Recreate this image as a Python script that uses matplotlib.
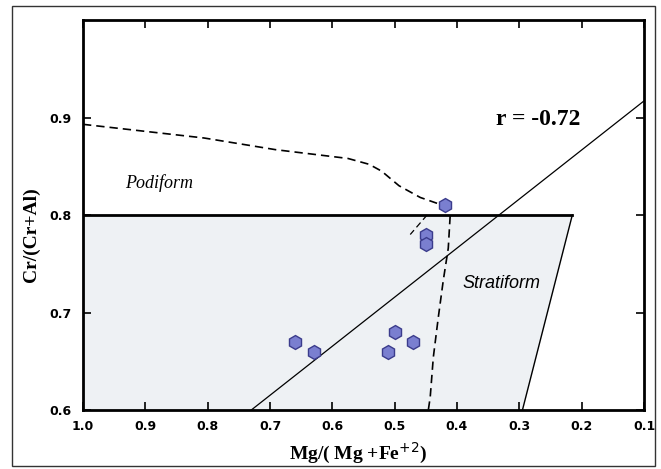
import matplotlib
matplotlib.use("Agg")
import matplotlib.pyplot as plt
from matplotlib.patches import Rectangle

# chromite compositions
mg_num = [0.42, 0.45, 0.45, 0.66, 0.63, 0.50, 0.47, 0.51]
cr_num = [0.81, 0.78, 0.77, 0.67, 0.66, 0.68, 0.67, 0.66]

# stratiform field
field_x = [1.0, 1.0, 0.215, 0.295]
field_y = [0.6, 0.8, 0.8, 0.6]

# podiform trend (dashed)
pod_x = [1.0, 0.806, 0.691, 0.575, 0.541, 0.521, 0.493, 0.459, 0.432]
pod_y = [0.893, 0.879, 0.867, 0.858, 0.852, 0.845, 0.830, 0.818, 0.812]
stub_x = [0.448, 0.475]
stub_y = [0.800, 0.780]
vert_x = [0.411, 0.414, 0.422, 0.430, 0.438, 0.443, 0.446]
vert_y = [0.799, 0.766, 0.733, 0.695, 0.654, 0.613, 0.600]

# regression line
reg_x = [0.73, 0.10]
reg_y = [0.60, 0.917]

xticks = [1.0, 0.9, 0.8, 0.7, 0.6, 0.5, 0.4, 0.3, 0.2, 0.1]
yticks = [0.6, 0.7, 0.8, 0.9]

fig = plt.figure(figsize=(6.61, 4.69), dpi=100)
ax = fig.add_axes([83/661, 1 - 410/469, 561/661, 390/469])

fig.patches.append(Rectangle((12/661, 1 - 466/469), 643/661, 460/469,
                             transform=fig.transFigure, fill=False,
                             edgecolor='#333333', linewidth=1.0))

ax.fill(field_x, field_y, color='#eef1f4', zorder=0)
ax.plot(field_x[1:3], field_y[1:3], color='black', linewidth=2, zorder=2)
ax.plot(field_x[2:4], field_y[2:4], color='black', linewidth=1.0, zorder=2)

ax.plot(reg_x, reg_y, color='black', linewidth=0.9, zorder=2)

dash = (0, (5, 3))
ax.plot(pod_x, pod_y, color='black', linewidth=1.2, linestyle=dash, zorder=2)
ax.plot(stub_x, stub_y, color='black', linewidth=0.9, linestyle=dash, zorder=2)
ax.plot(vert_x, vert_y, color='black', linewidth=1.2, linestyle=dash, zorder=2)

ax.plot(mg_num, cr_num, linestyle='none', marker='h', markersize=10,
        markerfacecolor='#7a7fd0', markeredgecolor='#3b3c8c',
        markeredgewidth=1.0, zorder=3)

ax.text(0.337, 0.898, 'r = -0.72', fontsize=17, fontweight='bold',
        family='Liberation Serif', va='center', ha='left')
ax.text(0.933, 0.833, 'Podiform', fontsize=13, style='italic',
        family='Liberation Serif', va='center', ha='left')
ax.text(0.392, 0.730, 'Stratiform', fontsize=13, style='italic',
        family='Liberation Sans', va='center', ha='left')

ax.set_xlim(1.0, 0.1)
ax.set_ylim(0.6, 1.0)
ax.set_xticks(xticks)
ax.set_yticks(yticks)
ax.set_xticklabels(['%.1f' % v for v in xticks])
ax.set_yticklabels(['%.1f' % v for v in yticks])
ax.tick_params(direction='in', length=6, width=1.2, top=True, right=True,
               labelsize=9)
ax.tick_params(axis='x', pad=7)
ax.tick_params(axis='y', pad=8)
for lab in ax.get_xticklabels() + ax.get_yticklabels():
    lab.set_family('DejaVu Sans')
    lab.set_fontweight('bold')
for sp in ax.spines.values():
    sp.set_linewidth(2)

ax.set_xlabel('Mg/( Mg +Fe$^{+2}$)', fontsize=14, family='Liberation Serif',
              fontweight='bold')
ax.set_ylabel('Cr/(Cr+Al)', fontsize=14, family='Liberation Serif',
              fontweight='bold')
ax.xaxis.set_label_coords(0.49, -0.08)
ax.yaxis.set_label_coords(-0.077, 0.45)

fig.savefig('out.png', dpi=100)
